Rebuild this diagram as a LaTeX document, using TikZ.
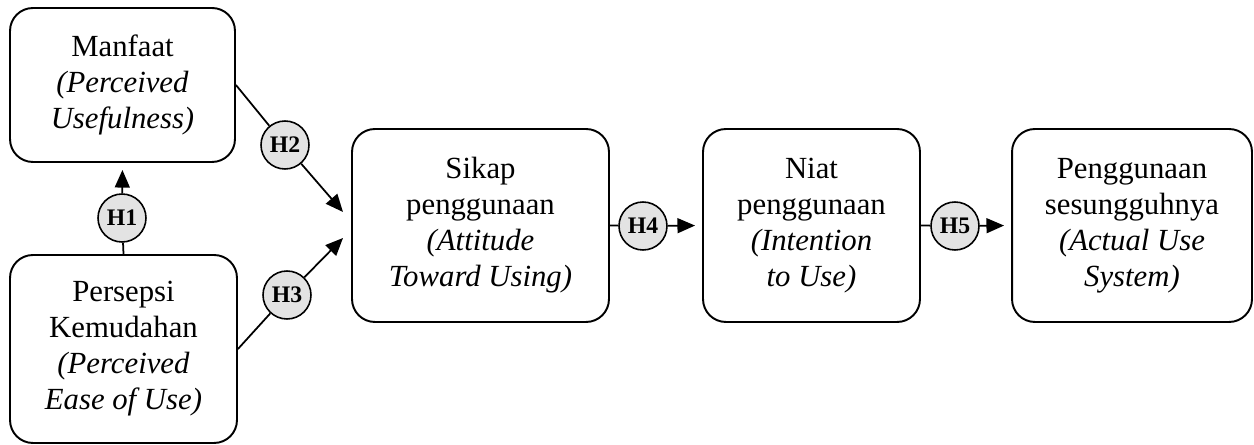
\documentclass[tikz,border=0pt]{standalone}
\usepackage{fontspec}
\setmainfont{Liberation Serif}
\usetikzlibrary{arrows.meta}

\tikzset{
  konstruk/.style={draw, line width=1.1pt, rounded corners=13pt, align=center, inner sep=0pt,
    font=\fontsize{17.5}{20.5}\selectfont},
  hipo/.style={circle, draw, line width=0.9pt, fill=gray!22, minimum size=0.96cm, inner sep=0pt,
    font=\fontsize{13.5}{14}\selectfont\bfseries},
  panah/.style={-{Triangle[length=10pt,width=8.5pt]}, line width=1pt}
}

\begin{document}
\begin{tikzpicture}[x=0.02cm,y=-0.02cm]
\useasboundingbox (0,0) rectangle (1254,445);
% kotak konstruk TAM
\node[konstruk, minimum width=4.5cm, minimum height=3.08cm] (manfaat) at (122.5,85)
  {Manfaat\\ \textit{(Perceived}\\ \textit{Usefulness)}};
\node[konstruk, minimum width=4.54cm, minimum height=3.76cm] (persepsi) at (123.5,349)
  {Persepsi\\ Kemudahan\\ \textit{(Perceived}\\ \textit{Ease of Use)}};
\node[konstruk, minimum width=5.14cm, minimum height=3.86cm] (sikap) at (480.5,225.5)
  {Sikap\\ penggunaan\\ \textit{(Attitude}\\ \textit{Toward Using)}};
\node[konstruk, minimum width=4.34cm, minimum height=3.86cm] (niat) at (811.5,225.5)
  {Niat\\ penggunaan\\ \textit{(Intention}\\ \textit{to Use)}};
\node[konstruk, minimum width=4.8cm, minimum height=3.86cm] (aktual) at (1132,225.5)
  {Penggunaan\\ sesungguhnya\\ \textit{(Actual Use}\\ \textit{System)}};
% hipotesis
\node[hipo] (h1) at (122,218) {H1};
\node[hipo] (h2) at (285,145) {H2};
\node[hipo] (h3) at (287,295) {H3};
\node[hipo] (h4) at (643,226) {H4};
\node[hipo] (h5) at (955,226) {H5};
\coordinate (t2) at (343,212);
\coordinate (t3) at (343,238);
% panah
\draw[line width=1pt] (persepsi.north) -- (h1);
\draw[panah, shorten >=4pt] (h1) -- (manfaat.south);
\draw[line width=1pt] (manfaat.east) -- (h2);
\draw[panah] (h2) -- (t2);
\draw[line width=1pt] (persepsi.east) -- (h3);
\draw[panah] (h3) -- (t3);
\draw[line width=1pt] (sikap.east) -- (h4);
\draw[panah, shorten >=4pt] (h4) -- (niat.west);
\draw[line width=1pt] (niat.east) -- (h5);
\draw[panah, shorten >=4pt] (h5) -- (aktual.west);
\end{tikzpicture}
\end{document}
